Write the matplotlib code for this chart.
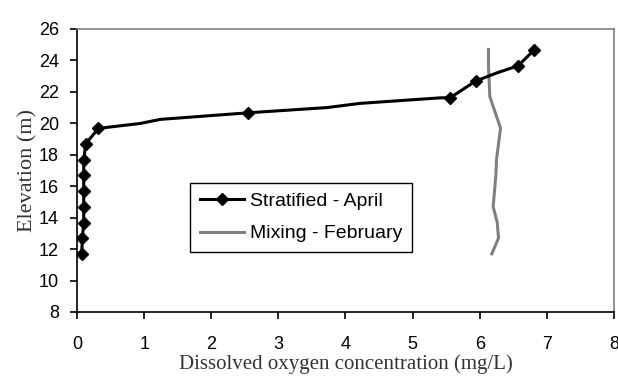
import numpy as np
import matplotlib
matplotlib.use("Agg")
import matplotlib.pyplot as plt

# Stratified - April profile (DO in mg/L, elevation in m)
strat_do = [6.81, 6.57, 6.25, 5.94, 5.56, 5.41, 4.22, 3.72, 2.55, 1.24, 0.94, 0.32,
            0.13, 0.10, 0.10, 0.10, 0.10, 0.10, 0.08, 0.07]
strat_elev = [24.66, 23.66, 23.2, 22.69, 21.63, 21.62, 21.27, 21.0, 20.67, 20.25, 19.99, 19.68,
              18.7, 17.66, 16.7, 15.7, 14.68, 13.66, 12.7, 11.67]
# points that carry a marker
strat_marked = [0, 1, 3, 4, 8, 11, 12, 13, 14, 15, 16, 17, 18, 19]

# Mixing - February profile
mix_do = [6.13, 6.13, 6.14, 6.15, 6.23, 6.31, 6.28, 6.25, 6.24, 6.22, 6.20, 6.26, 6.28, 6.18]
mix_elev = [24.7, 23.7, 22.7, 21.7, 20.7, 19.7, 18.7, 17.7, 16.7, 15.7, 14.7, 13.7, 12.7, 11.7]

xticks = [0, 1, 2, 3, 4, 5, 6, 7, 8]
yticks = [8, 10, 12, 14, 16, 18, 20, 22, 24, 26]

sans = ['Liberation Sans', 'DejaVu Sans']
serif = ['Liberation Serif', 'DejaVu Serif']

fig = plt.figure(figsize=(6.18, 3.79), dpi=100)
ax = fig.add_axes([0.1246, 0.1768, 0.8689, 0.7467])

ax.plot(strat_do, strat_elev, color='black', lw=2.2, marker='D', markersize=6.5,
        markevery=strat_marked, label='Stratified - April', zorder=3)
ax.plot(mix_do, mix_elev, color='#808080', lw=2.2, label='Mixing - February', zorder=2)

ax.set_xlim(0, 8)
ax.set_ylim(8, 26)
ax.set_xticks(xticks)
ax.set_yticks(yticks)
ax.tick_params(direction='out', length=5, width=1.2, color='black', labelsize=13)
ax.tick_params(axis='x', pad=12)
ax.tick_params(axis='y', pad=8)
for lab in ax.get_xticklabels() + ax.get_yticklabels():
    lab.set_family(sans)

for s in ['left', 'bottom']:
    ax.spines[s].set_color('black')
    ax.spines[s].set_linewidth(1.2)
for s in ['top', 'right']:
    ax.spines[s].set_color('#808080')
    ax.spines[s].set_linewidth(1.2)

ax.set_xlabel('Dissolved oxygen concentration (mg/L)', family=serif, fontsize=15,
              color='#333333', labelpad=1)
ax.set_ylabel('Elevation (m)', family=serif, fontsize=16, color='#333333', labelpad=1)

leg = ax.legend(loc='upper left', bbox_to_anchor=(0.2104, 0.456), borderaxespad=0,
                fancybox=False, edgecolor='black', framealpha=1, handlelength=2.3,
                handletextpad=0.3, borderpad=0.5, labelspacing=0.75,
                prop={'family': sans, 'size': 14})
leg.get_frame().set_linewidth(1.0)

fig.savefig('out.png', dpi=100)
